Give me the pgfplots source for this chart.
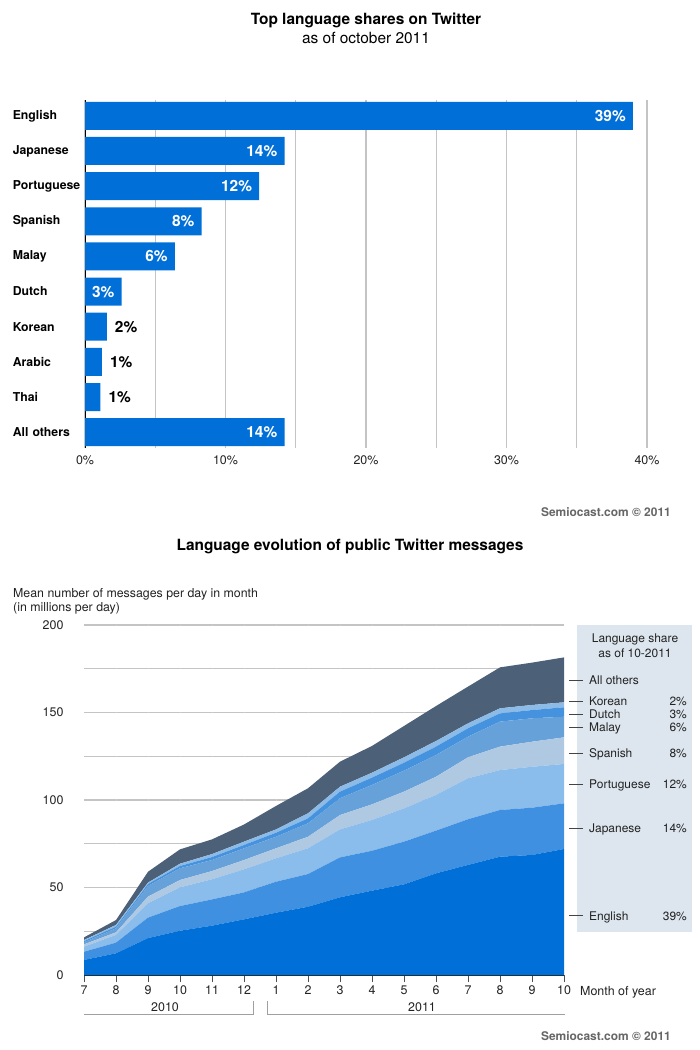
\documentclass[border=0pt]{standalone}
\usepackage{pgfplots}
\pgfplotsset{compat=1.18}
\usepackage{pgfplotstable}
\usepackage{fontspec}
\setmainfont{TeX Gyre Heros}

\definecolor{barblue}{HTML}{0070D8}
\definecolor{cEn}{HTML}{0070D8}
\definecolor{cJa}{HTML}{3F90E0}
\definecolor{cPt}{HTML}{8ABCEC}
\definecolor{cEs}{HTML}{AFC9E3}
\definecolor{cMs}{HTML}{66A1DA}
\definecolor{cNl}{HTML}{4592DE}
\definecolor{cKo}{HTML}{8DBBE8}
\definecolor{cOt}{HTML}{4C6078}
\definecolor{gridgray}{HTML}{C4C4C4}
\definecolor{panel}{HTML}{DDE6EF}
\definecolor{txt}{HTML}{222222}
\definecolor{credit}{HTML}{666666}
\definecolor{brk}{HTML}{A0A0A0}

\newcommand\fs[1]{\fontsize{#1}{#1}\selectfont}

% millions of messages per day, one column per language (stacked increments)
% months: 7..12 of 2010, 1..10 of 2011
\pgfplotstableread{
m  en   ja   pt   es   ms   nl  ko  ot
0  8.6  4.7  2.9  1.3  1.2  0.7 0.6 1.5
1  12.4 6.1  4.4  1.5  2.3  0.9 1.0 2.8
2  21.1 11.7 8.2  3.8  6.1  1.1 0.8 6.2
3  25.3 14.1 10.7 4.2  6.7  1.3 1.3 8.2
4  28.2 15.0 11.5 4.7  6.3  1.7 1.7 8.4
5  31.8 15.4 13.2 5.3  6.7  1.9 1.9 9.8
6  35.6 17.7 13.4 5.7  6.6  2.3 1.9 13.4
7  39.0 18.7 14.7 6.6  7.7  2.8 2.9 14.3
8  44.4 22.8 16.0 8.2  9.6  3.8 2.8 14.3
9  48.2 22.8 17.6 8.9  11.1 4.2 2.8 15.3
10 51.8 24.4 19.0 9.6  12.0 4.5 3.1 17.9
11 58.1 24.4 20.4 10.4 12.4 4.8 3.2 20.0
12 62.9 26.1 23.4 12.0 11.8 4.8 2.8 21.0
13 67.6 26.7 22.8 13.4 14.3 4.7 2.9 23.4
14 68.6 27.0 23.4 14.3 13.4 4.7 2.9 24.2
15 72.0 26.1 22.5 15.2 11.8 5.4 2.8 25.7
}\volume

\begin{document}
\begin{tikzpicture}
\path[use as bounding box] (0,0) rectangle (700bp,-1050bp);

% ---- top: language shares ----
\begin{axis}[
  at={(85bp,-448bp)}, anchor=south west,
  scale only axis, width=562bp, height=348bp,
  xbar, bar width=28bp,
  xmin=0, xmax=40, ymin=-0.45, ymax=9.45,
  axis lines*=left,
  x axis line style={draw=none},
  y axis line style={black, line width=1bp},
  xtick={0,10,20,30,40},
  xticklabels={0\%,10\%,20\%,30\%,40\%},
  minor xtick={5,15,25,35},
  xmajorgrids, xminorgrids,
  grid style={gridgray, line width=1.3bp},
  minor grid style={gridgray, line width=1.3bp},
  major tick length=0pt, minor tick length=0pt,
  ytick={0,...,9},
  yticklabels={All others,Thai,Arabic,Korean,Dutch,Malay,Spanish,Portuguese,Japanese,English},
  yticklabel style={font=\fs{12.3}\bfseries, text=black, text width=72bp, align=left, inner sep=0pt, anchor=east},
  xticklabel style={font=\fs{12.5}, text=txt, yshift=-4bp},
  point meta=explicit symbolic,
  nodes near coords,
]
\addplot[bar shift=0pt, fill=barblue, draw=none,
  nodes near coords style={font=\fs{15.5}\bfseries, text=white, anchor=east, inner sep=0pt, xshift=-7bp}]
  coordinates {(39.0,9)[39\%] (14.2,8)[14\%] (12.4,7)[12\%] (8.3,6)[8\%] (6.4,5)[6\%] (2.6,4)[3\%] (14.2,0)[14\%]};
\addplot[bar shift=0pt, fill=barblue, draw=none,
  nodes near coords style={font=\fs{15.5}\bfseries, text=black, anchor=west, inner sep=0pt, xshift=8bp}]
  coordinates {(1.55,3)[2\%] (1.2,2)[1\%] (1.1,1)[1\%]};
\end{axis}

% ---- bottom: evolution ----
\begin{axis}[
  at={(84bp,-975bp)}, anchor=south west,
  scale only axis, width=480bp, height=350bp,
  xmin=0, xmax=15, ymin=0, ymax=200,
  stack plots=y, area style, axis on top=false,
  axis lines*=left,
  x axis line style={draw=none}, y axis line style={draw=none},
  xtick={0,...,15},
  xticklabels={7,8,9,10,11,12,1,2,3,4,5,6,7,8,9,10},
  ytick={0,50,100,150,200},
  yticklabels={0,50,100,150,200},
  minor ytick={25,75,125,175},
  ymajorgrids, yminorgrids,
  grid style={gridgray, line width=1.3bp},
  minor grid style={gridgray, line width=1.3bp},
  ytick style={draw=none}, minor tick length=0pt,
  xtick style={txt!80, line width=0.9bp},
  tick align=outside, major tick length=7bp,
  yticklabel style={font=\fs{12.5}, text=txt, xshift=-10bp},
  xticklabel style={font=\fs{12.5}, text=txt},
]
\addplot[fill=cEn, draw=none] table[x=m,y=en]{\volume} \closedcycle;
\addplot[fill=cJa, draw=none] table[x=m,y=ja]{\volume} \closedcycle;
\addplot[fill=cPt, draw=none] table[x=m,y=pt]{\volume} \closedcycle;
\addplot[fill=cEs, draw=none] table[x=m,y=es]{\volume} \closedcycle;
\addplot[fill=cMs, draw=none] table[x=m,y=ms]{\volume} \closedcycle;
\addplot[fill=cNl, draw=none] table[x=m,y=nl]{\volume} \closedcycle;
\addplot[fill=cKo, draw=none] table[x=m,y=ko]{\volume} \closedcycle;
\addplot[fill=cOt, draw=none] table[x=m,y=ot]{\volume} \closedcycle;
\pgfplotsinvokeforeach{1,...,14}{
  \draw[white, opacity=0.22, line width=0.8bp] (axis cs:#1,0) -- (axis cs:#1,200);
}
\draw[black!85, line width=1.3bp] (axis cs:0,0) -- (axis cs:15,0);
\end{axis}

% ---- texts and decorations ----
\begin{scope}[x=1bp,y=-1bp]
\node[font=\fs{15.5}\bfseries, text=black, anchor=base] at (366,24.6) {Top language shares on Twitter};
\node[font=\fs{15.5}, text=black, anchor=base] at (366,43.6) {as of october 2011};
\node[font=\fs{12}\bfseries, text=credit, anchor=base east, inner sep=0pt] at (671,516.3) {Semiocast.com © 2011};
\node[font=\fs{15.5}\bfseries, text=black, anchor=base] at (350,550.6) {Language evolution of public Twitter messages};
\node[font=\fs{12.4}, text=txt, anchor=base west, inner sep=0pt] at (13,597) {Mean number of messages per day in month};
\node[font=\fs{12.4}, text=txt, anchor=base west, inner sep=0pt] at (13,611) {(in millions per day)};
\node[font=\fs{12.5}, text=txt, anchor=base west, inner sep=0pt] at (580,995) {Month of year};

\draw[brk, line width=1bp] (84,1014) -- (253,1014) -- (253,1001);
\draw[brk, line width=1bp] (267,1001) -- (267,1014) -- (565,1014);
\node[font=\fs{12.5}, text=txt, anchor=base] at (165,1011.5) {2010};
\node[font=\fs{12.5}, text=txt, anchor=base] at (422,1011.5) {2011};

\node[font=\fs{12}\bfseries, text=credit, anchor=base east, inner sep=0pt] at (671,1040.3) {Semiocast.com © 2011};

\fill[panel] (577,625) rectangle (692,932);
\node[font=\fs{12}, text=txt, anchor=base, inner sep=0pt] at (635,642.3) {Language share};
\node[font=\fs{12}, text=txt, anchor=base, inner sep=0pt] at (635,657) {as of 10-2011};
\foreach \nm/\pc/\yy in {All others//680, Korean/2\%/701, Dutch/3\%/714, Malay/6\%/727.3,
    Spanish/8\%/753.3, Portuguese/12\%/784.3, Japanese/14\%/828.3, English/39\%/915.7} {
  \draw[txt!85, line width=0.9bp] (569,\yy) -- (583,\yy);
  \node[font=\fs{12}, text=txt, anchor=base west, inner sep=0pt] at (589,{\yy+4.3}) {\nm};
  \node[font=\fs{12}, text=txt, anchor=base east, inner sep=0pt] at (687,{\yy+4.3}) {\pc};
}
\end{scope}
\end{tikzpicture}
\end{document}
